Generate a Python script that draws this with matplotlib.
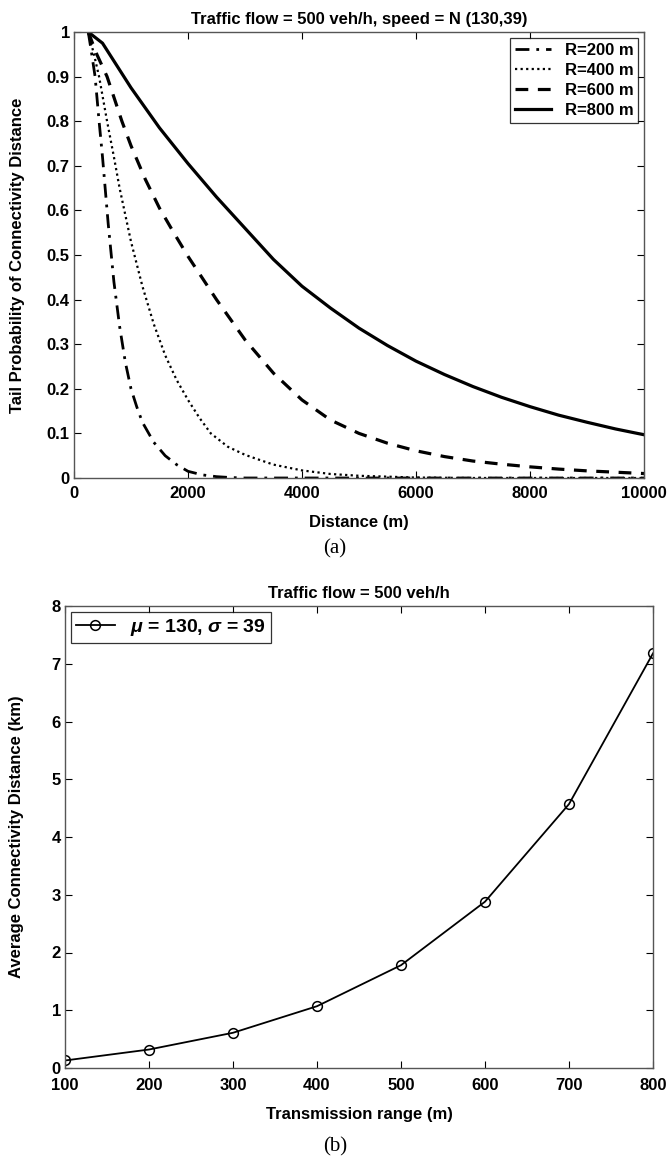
import matplotlib
matplotlib.use("Agg")
import matplotlib.pyplot as plt

plt.rcParams['font.family'] = ['Liberation Sans', 'DejaVu Sans']
plt.rcParams['font.weight'] = 'bold'
plt.rcParams['mathtext.fontset'] = 'custom'
plt.rcParams['mathtext.it'] = 'Liberation Sans:italic:bold'

# ---- Panel (a) data ----
dist_r200 = [250, 300, 370, 440, 500, 600, 700, 800, 900, 1000, 1100, 1200, 1400, 1600, 1800, 2000, 2250, 2500,
             2750, 3000, 10000]
tail_r200 = [1.0, 0.96, 0.90, 0.80, 0.72, 0.57, 0.44, 0.34, 0.26, 0.20, 0.16, 0.125, 0.08, 0.05, 0.03, 0.015, 0.007,
             0.003, 0.001, 0.0, 0.0]

dist_r400 = [250, 350, 440, 580, 700, 800, 1000, 1200, 1400, 1600, 1800, 2000, 2200, 2400, 2700, 3000, 3200, 3500,
             4000, 4500, 5000, 5500, 6000, 7000, 10000]
tail_r400 = [1.0, 0.95, 0.90, 0.80, 0.72, 0.65, 0.53, 0.43, 0.345, 0.275, 0.22, 0.175, 0.135, 0.10, 0.07, 0.052, 0.043,
             0.030, 0.017, 0.009, 0.005, 0.003, 0.001, 0.0, 0.0]

dist_r600 = [250, 400, 580, 840, 1000, 1250, 1500, 1750, 2000, 2500, 3000, 3500, 4000, 4500, 5000, 5500, 6000, 6500,
             7000, 7500, 8000, 8500, 9000, 9500, 10000]
tail_r600 = [1.0, 0.95, 0.90, 0.80, 0.745, 0.67, 0.605, 0.55, 0.497, 0.40, 0.31, 0.235, 0.175, 0.13, 0.10, 0.078, 0.061,
             0.048, 0.038, 0.031, 0.025, 0.020, 0.016, 0.013, 0.010]

dist_r800 = [250, 500, 750, 1000, 1250, 1500, 1750, 2000, 2500, 3000, 3500, 4000, 4500, 5000, 5500, 6000, 6500, 7000,
             7500, 8000, 8500, 9000, 9500, 10000]
tail_r800 = [1.0, 0.975, 0.925, 0.875, 0.83, 0.785, 0.745, 0.705, 0.63, 0.56, 0.49, 0.43, 0.381, 0.336, 0.297, 0.262,
             0.232, 0.205, 0.181, 0.160, 0.141, 0.125, 0.110, 0.097]

labels_a = ['R=200 m', 'R=400 m', 'R=600 m', 'R=800 m']

# ---- Panel (b) data ----
tx_range = [100, 200, 300, 400, 500, 600, 700, 800]
avg_conn_km = [0.13, 0.32, 0.61, 1.07, 1.78, 2.88, 4.57, 7.18]

W, H = 670, 1162
fig = plt.figure(figsize=(W / 100, H / 100), dpi=100)

def frac(l, t, r, b):
    return [l / W, 1 - b / H, (r - l) / W, (b - t) / H]

spine_col = '#555555'

def style_axes(ax, xpad):
    for s in ax.spines.values():
        s.set_color(spine_col)
        s.set_linewidth(1.0)
    ax.tick_params(direction='in', length=5, width=0.8, color='black',
                   top=True, right=True, labelsize=12)
    ax.tick_params(axis='x', pad=xpad)
    ax.tick_params(axis='y', pad=3)
    for lab in ax.get_xticklabels() + ax.get_yticklabels():
        lab.set_fontweight('bold')

# Panel (a)
ax1 = fig.add_axes(frac(74, 32, 644, 478))
ax1.plot(dist_r200, tail_r200, color='black', lw=2.0, linestyle=(0, (5, 2.5, 1, 2.5)), label=labels_a[0])
ax1.plot(dist_r400, tail_r400, color='black', lw=1.6, linestyle=(0, (1, 1.5)), label=labels_a[1])
ax1.plot(dist_r600, tail_r600, color='black', lw=2.3, linestyle=(0, (4, 3)), label=labels_a[2])
ax1.plot(dist_r800, tail_r800, color='black', lw=2.3, linestyle='-', label=labels_a[3])
ax1.set_xlim(0, 10000)
ax1.set_ylim(0, 1)
ax1.set_xticks([0, 2000, 4000, 6000, 8000, 10000])
ax1.set_yticks([0, 0.1, 0.2, 0.3, 0.4, 0.5, 0.6, 0.7, 0.8, 0.9, 1])
ax1.set_yticklabels(['0', '0.1', '0.2', '0.3', '0.4', '0.5', '0.6', '0.7', '0.8', '0.9', '1'])
ax1.set_xlabel('Distance (m)', fontsize=12, fontweight='bold', labelpad=10)
ax1.set_ylabel('Tail Probability of Connectivity Distance', fontsize=12, fontweight='bold', labelpad=16)
ax1.set_title('Traffic flow = 500 veh/h, speed = N (130,39)', fontsize=12, fontweight='bold', pad=6)
style_axes(ax1, 6)
leg1 = ax1.legend(loc='upper right', fontsize=12, frameon=True, fancybox=False, edgecolor='black',
                  handlelength=2.2, borderpad=0.3, labelspacing=0.3, borderaxespad=0.35)
leg1.get_frame().set_linewidth(0.9)
for t in leg1.get_texts():
    t.set_fontweight('bold')

fig.text(0.5, 1 - 549 / H, '(a)', ha='center', va='center', fontsize=15, family='Liberation Serif', fontweight='normal')

# Panel (b)
ax2 = fig.add_axes(frac(65, 606, 653, 1068))
ax2.plot(tx_range, avg_conn_km, color='black', lw=1.3, marker='o', markersize=7,
         markerfacecolor='none', markeredgecolor='black', markeredgewidth=1.1,
         label=r'$\mu$ = 130, $\sigma$ = 39')
ax2.set_xlim(100, 800)
ax2.set_ylim(0, 8)
ax2.set_xticks(tx_range)
ax2.set_yticks(range(0, 9))
ax2.set_xlabel('Transmission range (m)', fontsize=12, fontweight='bold', labelpad=10)
ax2.set_ylabel('Average Connectivity Distance (km)', fontsize=12, fontweight='bold', labelpad=20)
ax2.set_title('Traffic flow = 500 veh/h', fontsize=12, fontweight='bold', pad=6)
style_axes(ax2, 7)
leg2 = ax2.legend(loc='upper left', fontsize=14, frameon=True, fancybox=False, edgecolor='black',
                  handlelength=2.0, borderpad=0.25, borderaxespad=0.3)
leg2.get_frame().set_linewidth(0.9)
for t in leg2.get_texts():
    t.set_fontweight('bold')

fig.text(0.5, 1 - 1147 / H, '(b)', ha='center', va='center', fontsize=15, family='Liberation Serif', fontweight='normal')

fig.savefig('out.png', dpi=100)
